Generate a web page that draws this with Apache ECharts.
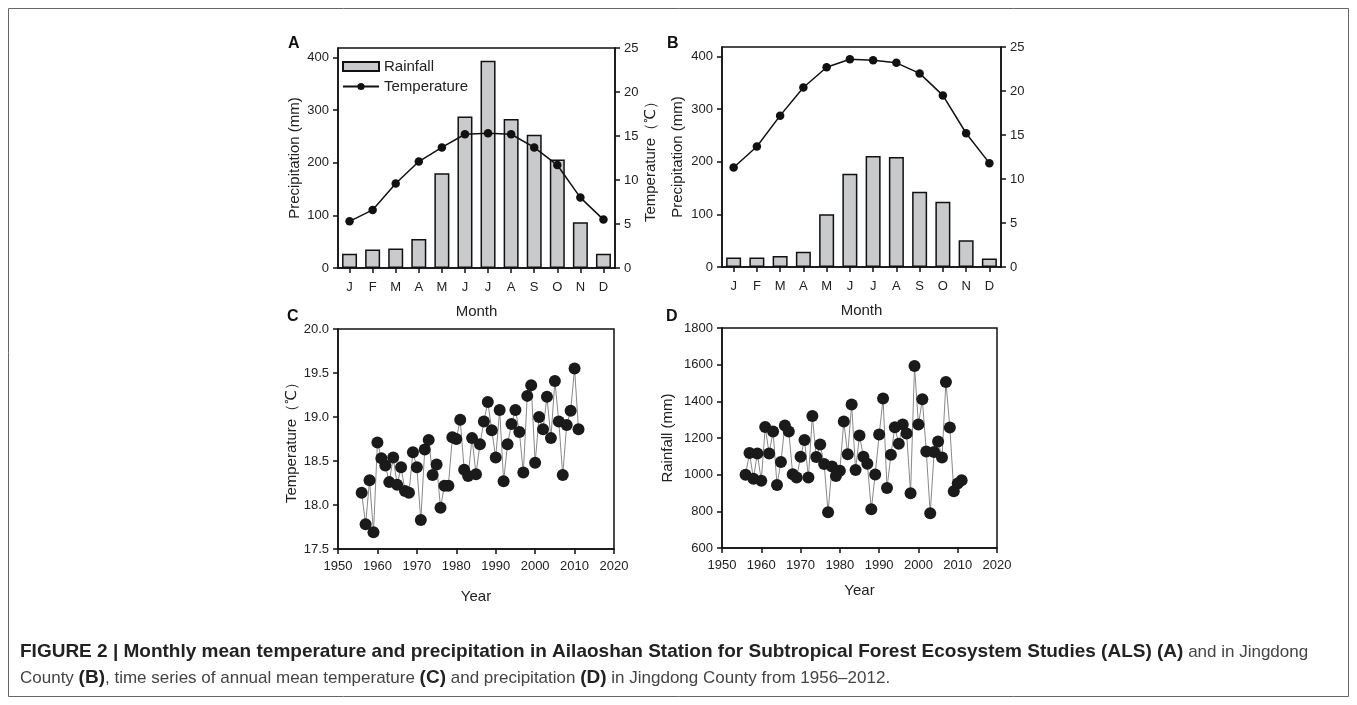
<!DOCTYPE html>
<html>
<head>
<meta charset="utf-8">
<script src="https://cdn.jsdelivr.net/npm/echarts@6/dist/echarts.min.js"></script>
<style>
  html, body { margin: 0; padding: 0; background: #fff; }
  #main { width: 1357px; height: 705px; }
</style>
</head>
<body>
<div id="main"></div>
<script>
// panels A and B: monthly means
var months = ["J", "F", "M", "A", "M", "J", "J", "A", "S", "O", "N", "D"];
var rainA = [27, 35, 37, 55, 180, 288, 394, 283, 253, 206, 87, 27];
var tempA = [5.3, 6.6, 9.6, 12.1, 13.7, 15.2, 15.3, 15.2, 13.7, 11.7, 8.0, 5.5];
var rainB = [18, 18, 21, 29, 100, 177, 211, 209, 143, 124, 51, 16];
var tempB = [11.3, 13.7, 17.2, 20.4, 22.7, 23.6, 23.5, 23.2, 22.0, 19.5, 15.2, 11.8];

// panels C and D: annual series 1956-2011
var firstYear = 1956;
var tempC = [18.14, 17.78, 18.28, 17.69, 18.71, 18.53, 18.45, 18.26, 18.54, 18.23,
  18.43, 18.16, 18.14, 18.60, 18.43, 17.83, 18.63, 18.74, 18.34, 18.46,
  17.97, 18.22, 18.22, 18.77, 18.75, 18.97, 18.40, 18.33, 18.76, 18.35,
  18.69, 18.95, 19.17, 18.85, 18.54, 19.08, 18.27, 18.69, 18.92, 19.08,
  18.83, 18.37, 19.24, 19.36, 18.48, 19.00, 18.86, 19.23, 18.76, 19.41,
  18.95, 18.34, 18.91, 19.07, 19.55, 18.86];
var rainD = [1000, 1118, 978, 1115, 967, 1260, 1115, 1236, 944, 1069,
  1268, 1236, 1002, 984, 1098, 1189, 985, 1320, 1096, 1164,
  1058, 795, 1045, 993, 1022, 1290, 1111, 1383, 1026, 1214,
  1098, 1060, 811, 1001, 1219, 1415, 927, 1109, 1259, 1168,
  1274, 1225, 899, 1593, 1273, 1411, 1127, 789, 1123, 1181,
  1094, 1506, 1257, 910, 952, 970];

var yearTicks = [1950, 2020, 10];

function pairs(arr) {
  return arr.map(function (v, i) { return [firstYear + i, v]; });
}
function plain(v) { return String(v); }

var FONT = "'Liberation Sans', Arial, sans-serif";
var INK = "#222";

var axisLine = { show: true, lineStyle: { color: "#111", width: 1.5 } };
var axisTick = { show: true, length: 5, lineStyle: { color: "#111", width: 1.5 } };
var lbl = { color: INK, fontSize: 13, fontFamily: FONT };
var nameStyle = { color: INK, fontSize: 15, fontFamily: FONT };

function monthAxis(grid) {
  return {
    type: "category", gridIndex: grid, data: months,
    axisLine: axisLine, axisTick: Object.assign({ alignWithLabel: true }, axisTick),
    axisLabel: Object.assign({ margin: 13 }, lbl),
    name: "Month", nameLocation: "middle", nameGap: 36, nameTextStyle: nameStyle,
    splitLine: { show: false }
  };
}
function yearAxis(grid, gap) {
  return {
    type: "value", gridIndex: grid, min: yearTicks[0], max: yearTicks[1], interval: yearTicks[2],
    axisLine: axisLine, axisTick: axisTick,
    axisLabel: Object.assign({ margin: 11, formatter: plain }, lbl),
    name: "Year", nameLocation: "middle", nameGap: gap, nameTextStyle: nameStyle,
    splitLine: { show: false }
  };
}
function valAxis(grid, o) {
  return Object.assign({
    type: "value", gridIndex: grid,
    axisLine: axisLine, axisTick: axisTick,
    axisLabel: Object.assign({ margin: 9, formatter: plain }, lbl),
    nameLocation: "middle", nameRotate: 90, nameTextStyle: nameStyle,
    splitLine: { show: false }
  }, o);
}

var barStyle = { color: "#c9cacb", borderColor: "#111", borderWidth: 1.5 };
var gridBox = { show: true, borderColor: "#111", borderWidth: 1.5, backgroundColor: "transparent" };

var option = {
  animation: false,
  textStyle: { fontFamily: FONT },
  title: {
    left: 15, top: 634,
    text: "{b|FIGURE 2 | Monthly mean temperature and precipitation in Ailaoshan Station for Subtropical Forest Ecosystem Studies (ALS) (A)}{n| and in Jingdong}\n" +
          "{n|County }{b|(B)}{n|, time series of annual mean temperature }{b|(C)}{n| and precipitation }{b|(D)}{n| in Jingdong County from 1956–2012.}",
    textStyle: {
      fontWeight: "normal",
      rich: {
        b: { fontSize: 19, fontWeight: "bold", color: "#222", fontFamily: FONT, lineHeight: 26 },
        n: { fontSize: 17, fontWeight: "normal", color: "#444", fontFamily: FONT, lineHeight: 26 }
      }
    }
  },
  graphic: [
    { type: "rect", shape: { x: 8.5, y: 8.5, width: 1340, height: 688 }, style: { fill: "none", stroke: "#666", lineWidth: 1 } },
    { type: "text", left: 288, top: 36, style: { text: "A", font: "bold 16px " + FONT, fill: "#111" } },
    { type: "text", left: 667, top: 36, style: { text: "B", font: "bold 16px " + FONT, fill: "#111" } },
    { type: "text", left: 287, top: 309, style: { text: "C", font: "bold 16px " + FONT, fill: "#111" } },
    { type: "text", left: 666, top: 309, style: { text: "D", font: "bold 16px " + FONT, fill: "#111" } }
  ],
  legend: {
    left: 337, top: 54, orient: "vertical", itemGap: 5, itemWidth: 36, itemHeight: 9,
    textStyle: { color: INK, fontSize: 15, fontFamily: FONT },
    data: [{ name: "Rainfall", icon: "rect" }, { name: "Temperature" }]
  },
  grid: [
    Object.assign({ left: 338, top: 48, width: 277, height: 220 }, gridBox),
    Object.assign({ left: 722, top: 47, width: 279, height: 220 }, gridBox),
    Object.assign({ left: 338, top: 329, width: 276, height: 220 }, gridBox),
    Object.assign({ left: 722, top: 328, width: 275, height: 220 }, gridBox)
  ],
  xAxis: [monthAxis(0), monthAxis(1), yearAxis(2, 40), yearAxis(3, 35)],
  yAxis: [
    valAxis(0, { min: 0, max: 418, interval: 100, axisLabel: Object.assign({ margin: 9, showMaxLabel: false }, lbl),
      name: "Precipitation (mm)", nameGap: 36 }),
    valAxis(0, { position: "right", min: 0, max: 25, interval: 5, name: "Temperature（℃）", nameGap: 28 }),
    valAxis(1, { min: 0, max: 418, interval: 100, axisLabel: Object.assign({ margin: 9, showMaxLabel: false }, lbl),
      name: "Precipitation (mm)", nameGap: 37 }),
    valAxis(1, { position: "right", min: 0, max: 25, interval: 5 }),
    valAxis(2, { min: 17.5, max: 20, interval: 0.5,
      axisLabel: Object.assign({ margin: 9, formatter: function (v) { return v.toFixed(1); } }, lbl),
      name: "Temperature（℃）", nameGap: 38 }),
    valAxis(3, { min: 600, max: 1800, interval: 200, name: "Rainfall (mm)", nameGap: 47 })
  ],
  series: [
    { name: "Rainfall", type: "bar", xAxisIndex: 0, yAxisIndex: 0, barWidth: 15, data: rainA, itemStyle: barStyle },
    { name: "Temperature", type: "line", xAxisIndex: 0, yAxisIndex: 1, data: tempA,
      symbol: "circle", symbolSize: 8.5, lineStyle: { color: "#111", width: 1.5 }, itemStyle: { color: "#111" } },
    { name: "Rainfall B", type: "bar", xAxisIndex: 1, yAxisIndex: 2, barWidth: 15, data: rainB, itemStyle: barStyle },
    { name: "Temperature B", type: "line", xAxisIndex: 1, yAxisIndex: 3, data: tempB,
      symbol: "circle", symbolSize: 8.5, lineStyle: { color: "#111", width: 1.5 }, itemStyle: { color: "#111" } },
    { name: "Annual temperature", type: "line", xAxisIndex: 2, yAxisIndex: 4, data: pairs(tempC),
      symbol: "circle", symbolSize: 12, lineStyle: { color: "#888", width: 1 }, itemStyle: { color: "#1a1a1a" } },
    { name: "Annual rainfall", type: "line", xAxisIndex: 3, yAxisIndex: 5, data: pairs(rainD),
      symbol: "circle", symbolSize: 12, lineStyle: { color: "#888", width: 1 }, itemStyle: { color: "#1a1a1a" } }
  ]
};

var myChart = echarts.init(document.getElementById("main"), null, { renderer: "canvas" });
myChart.setOption(option);
</script>
</body>
</html>
